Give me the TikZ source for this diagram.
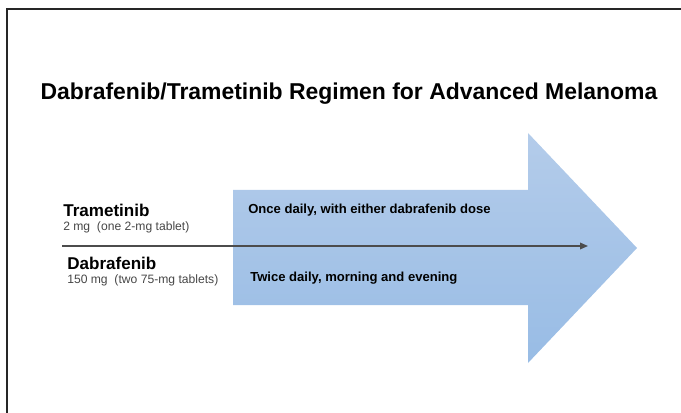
\documentclass[tikz,border=0pt]{standalone}
\usepackage{fontspec}
\setmainfont{Liberation Sans}
\usetikzlibrary{arrows.meta}

\definecolor{arrowtop}{RGB}{180,204,234}
\definecolor{arrowbottom}{RGB}{152,188,229}
\definecolor{dosegray}{RGB}{70,70,70}

\tikzstyle{title}   = [anchor=base, font=\bfseries\fontsize{17.2}{20}\selectfont]
\tikzstyle{drug}    = [anchor=base west, inner sep=0pt, font=\bfseries\fontsize{12.8}{15}\selectfont]
\tikzstyle{dose}    = [anchor=base west, inner sep=0pt, text=dosegray
                      , font=\fontsize{9.1}{11}\selectfont]
\tikzstyle{freq}    = [anchor=base west, inner sep=0pt, font=\bfseries\fontsize{9.8}{12}\selectfont]

\begin{document}
\begin{tikzpicture}[x=0.75pt, y=-0.75pt]
\useasboundingbox (0,0) rectangle (681,413);

%% Frame
\draw[line width=1.5pt, black!85] (7,413) -- (7,9) -- (681,9);

%% Title
\node [title] (Title) at (349,100) {Dabrafenib/Trametinib Regimen for Advanced Melanoma};

%% Big arrow
\shade[top color=arrowtop, bottom color=arrowbottom]
  (233,190) -- (528,190) -- (528,133) -- (637,248) -- (528,363)
  -- (528,305) -- (233,305) -- cycle;

%% Trametinib
\node [drug] (Trametinib-Name) at (63,217) {Trametinib};
\node [dose] (Trametinib-Dose) at (63,231) {2 mg\ \ (one 2-mg tablet)};
\node [freq] (Trametinib-Freq) at (248,214) {Once daily, with either dabrafenib dose};

%% Dabrafenib
\node [drug] (Dabrafenib-Name) at (67,269) {Dabrafenib};
\node [dose] (Dabrafenib-Dose) at (67,283) {150 mg\ \ (two 75-mg tablets)};
\node [freq] (Dabrafenib-Freq) at (250,281) {Twice daily, morning and evening};

%% Time line
\coordinate (Line-Start) at (62,246);
\coordinate (Line-End) at (588,246);
\draw [line width=0.9pt, black!70, -{Triangle[length=6pt, width=5pt]}] (Line-Start) -- (Line-End);

\end{tikzpicture}
\end{document}
